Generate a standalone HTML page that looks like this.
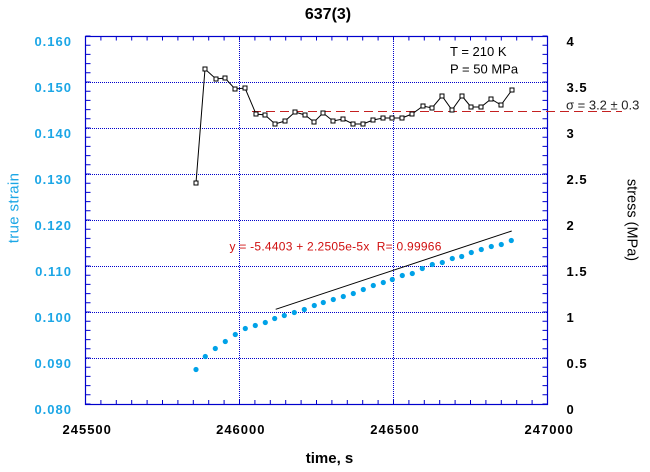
<!DOCTYPE html>
<html>
<head>
<meta charset="utf-8">
<style>
  html, body { margin: 0; padding: 0; background: #fff; }
  svg { display: block; }
  .lab { font-family: "Liberation Sans", sans-serif; font-weight: bold; font-size: 13px; letter-spacing: 1px; }
  .cy { fill: #1ba6e6; }
  .bk { fill: #000; }
</style>
</head>
<body>
<svg width="650" height="472" viewBox="0 0 650 472" xmlns="http://www.w3.org/2000/svg">
  <rect x="0" y="0" width="650" height="472" fill="#fff"/>

  <!-- grid lines -->
  <g stroke="#0000cc" stroke-width="1" stroke-dasharray="1 1" fill="none">
    <line x1="86" y1="82.5" x2="547" y2="82.5"/>
    <line x1="86" y1="128.5" x2="547" y2="128.5"/>
    <line x1="86" y1="174.5" x2="547" y2="174.5"/>
    <line x1="86" y1="220.5" x2="547" y2="220.5"/>
    <line x1="86" y1="266.5" x2="547" y2="266.5"/>
    <line x1="86" y1="312.5" x2="547" y2="312.5"/>
    <line x1="86" y1="358.5" x2="547" y2="358.5"/>
    <line x1="239.5" y1="37" x2="239.5" y2="404"/>
    <line x1="393.5" y1="37" x2="393.5" y2="404"/>
  </g>

  <!-- minor ticks -->
  <g stroke="#0000cc" fill="none">
    <line x1="88" y1="35.5" x2="88" y2="405" stroke-width="5" stroke-dasharray="1 8.2"/>
    <line x1="545" y1="35.5" x2="545" y2="405" stroke-width="5" stroke-dasharray="1 8.2"/>
    <line x1="85" y1="402" x2="548" y2="402" stroke-width="4" stroke-dasharray="1 14.4"/>
    <line x1="85" y1="38.5" x2="548" y2="38.5" stroke-width="4" stroke-dasharray="1 14.4"/>
  </g>

  <!-- frame -->
  <rect x="85.5" y="36.5" width="462" height="368" fill="none" stroke="#0000cc" stroke-width="1.2"/>

  <!-- mean stress dashed line -->
  <line x1="252" y1="111.5" x2="622" y2="111.5" stroke="#c42020" stroke-width="1" stroke-dasharray="9 5"/>

  <!-- fit line -->
  <line x1="275.7" y1="309.3" x2="511.7" y2="231" stroke="#000" stroke-width="1"/>

  <!-- stress series -->
  <polyline fill="none" stroke="#000" stroke-width="1"
    points="196,183 205,69 216,79 225,78 235,89 245,88 256,114 265,115 275,124 285,121 295,112 305,115 314,122 323,113 333,121 343,119 353,124 363,124 373,120 383,118 392,118 402,118 412,114 423,106 432,108 442,96 452,110 462,96 471,107 481,107 491,99 501,105 512,90"/>
  <g fill="#fff" stroke="#000" stroke-width="1">
    <rect x="194" y="181" width="4" height="4"/>
    <rect x="203" y="67" width="4" height="4"/>
    <rect x="214" y="77" width="4" height="4"/>
    <rect x="223" y="76" width="4" height="4"/>
    <rect x="233" y="87" width="4" height="4"/>
    <rect x="243" y="86" width="4" height="4"/>
    <rect x="254" y="112" width="4" height="4"/>
    <rect x="263" y="113" width="4" height="4"/>
    <rect x="273" y="122" width="4" height="4"/>
    <rect x="283" y="119" width="4" height="4"/>
    <rect x="293" y="110" width="4" height="4"/>
    <rect x="303" y="113" width="4" height="4"/>
    <rect x="312" y="120" width="4" height="4"/>
    <rect x="321" y="111" width="4" height="4"/>
    <rect x="331" y="119" width="4" height="4"/>
    <rect x="341" y="117" width="4" height="4"/>
    <rect x="351" y="122" width="4" height="4"/>
    <rect x="361" y="122" width="4" height="4"/>
    <rect x="371" y="118" width="4" height="4"/>
    <rect x="381" y="116" width="4" height="4"/>
    <rect x="390" y="116" width="4" height="4"/>
    <rect x="400" y="116" width="4" height="4"/>
    <rect x="410" y="112" width="4" height="4"/>
    <rect x="421" y="104" width="4" height="4"/>
    <rect x="430" y="106" width="4" height="4"/>
    <rect x="440" y="94" width="4" height="4"/>
    <rect x="450" y="108" width="4" height="4"/>
    <rect x="460" y="94" width="4" height="4"/>
    <rect x="469" y="105" width="4" height="4"/>
    <rect x="479" y="105" width="4" height="4"/>
    <rect x="489" y="97" width="4" height="4"/>
    <rect x="499" y="103" width="4" height="4"/>
    <rect x="510" y="88" width="4" height="4"/>
  </g>

  <!-- strain series -->
  <g fill="#00a2e8">
    <circle cx="196" cy="369.5" r="2.6"/>
    <circle cx="205.3" cy="356.5" r="2.6"/>
    <circle cx="215.3" cy="348.5" r="2.6"/>
    <circle cx="225.3" cy="341.5" r="2.6"/>
    <circle cx="235.3" cy="334.5" r="2.6"/>
    <circle cx="245.3" cy="328.5" r="2.6"/>
    <circle cx="255.3" cy="325.5" r="2.6"/>
    <circle cx="265.3" cy="322.5" r="2.6"/>
    <circle cx="274.7" cy="318.5" r="2.6"/>
    <circle cx="284.3" cy="315.5" r="2.6"/>
    <circle cx="294.3" cy="312.5" r="2.6"/>
    <circle cx="304.3" cy="309.5" r="2.6"/>
    <circle cx="314.3" cy="305.5" r="2.6"/>
    <circle cx="323.3" cy="302.5" r="2.6"/>
    <circle cx="333.3" cy="299.5" r="2.6"/>
    <circle cx="343.3" cy="296.5" r="2.6"/>
    <circle cx="353.3" cy="293.5" r="2.6"/>
    <circle cx="363.3" cy="289.5" r="2.6"/>
    <circle cx="373.3" cy="285.5" r="2.6"/>
    <circle cx="383.3" cy="282.5" r="2.6"/>
    <circle cx="392.3" cy="279.5" r="2.6"/>
    <circle cx="402.3" cy="275.5" r="2.6"/>
    <circle cx="412.3" cy="273.5" r="2.6"/>
    <circle cx="422.3" cy="268.5" r="2.6"/>
    <circle cx="432.3" cy="264.5" r="2.6"/>
    <circle cx="442.3" cy="262.5" r="2.6"/>
    <circle cx="452.3" cy="258.5" r="2.6"/>
    <circle cx="461.7" cy="256.5" r="2.6"/>
    <circle cx="471.3" cy="252.5" r="2.6"/>
    <circle cx="481.3" cy="249.5" r="2.6"/>
    <circle cx="491.3" cy="246.5" r="2.6"/>
    <circle cx="501.3" cy="244.5" r="2.6"/>
    <circle cx="511.3" cy="240.5" r="2.6"/>
  </g>

  <!-- title -->
  <text x="328" y="19" text-anchor="middle" font-family="Liberation Sans, sans-serif" font-weight="bold" font-size="16" fill="#000">637(3)</text>

  <!-- left axis labels -->
  <g class="lab cy" text-anchor="end">
    <text x="72" y="46">0.160</text>
    <text x="72" y="92">0.150</text>
    <text x="72" y="138">0.140</text>
    <text x="72" y="184">0.130</text>
    <text x="72" y="230">0.120</text>
    <text x="72" y="276">0.110</text>
    <text x="72" y="322">0.100</text>
    <text x="72" y="368">0.090</text>
    <text x="72" y="414">0.080</text>
  </g>

  <!-- right axis labels -->
  <g class="lab bk">
    <text x="566.5" y="46">4</text>
    <text x="566.5" y="92">3.5</text>
    <text x="566.5" y="138">3</text>
    <text x="566.5" y="184">2.5</text>
    <text x="566.5" y="230">2</text>
    <text x="566.5" y="276">1.5</text>
    <text x="566.5" y="322">1</text>
    <text x="566.5" y="368">0.5</text>
    <text x="566.5" y="414">0</text>
  </g>

  <!-- bottom axis labels -->
  <g class="lab bk" text-anchor="middle">
    <text x="87.2" y="434">245500</text>
    <text x="240.8" y="434">246000</text>
    <text x="395" y="434">246500</text>
    <text x="549.2" y="434">247000</text>
  </g>

  <!-- axis titles -->
  <text x="329.5" y="463" text-anchor="middle" font-family="Liberation Sans, sans-serif" font-weight="bold" font-size="15" fill="#000">time, s</text>
  <text transform="translate(18.3,208) rotate(-90)" text-anchor="middle" font-family="Liberation Sans, sans-serif" font-size="15" letter-spacing="0.35" fill="#1ba6e6">true strain</text>
  <text transform="translate(627.5,220) rotate(90)" text-anchor="middle" font-family="Liberation Sans, sans-serif" font-size="14.5" fill="#000">stress (MPa)</text>

  <!-- annotations -->
  <g font-family="Liberation Sans, sans-serif" font-size="13" fill="#000">
    <text x="450" y="56">T = 210 K</text>
    <text x="450" y="73.5">P = 50 MPa</text>
    <text x="566" y="109.5" fill="#222">σ = 3.2 ± 0.3</text>
  </g>

  <text x="229.5" y="250.5" font-family="Liberation Sans, sans-serif" font-size="12" letter-spacing="0.25" fill="#d01010">y = -5.4403 + 2.2505e-5x &#160;R= 0.99966</text>
</svg>
</body>
</html>
